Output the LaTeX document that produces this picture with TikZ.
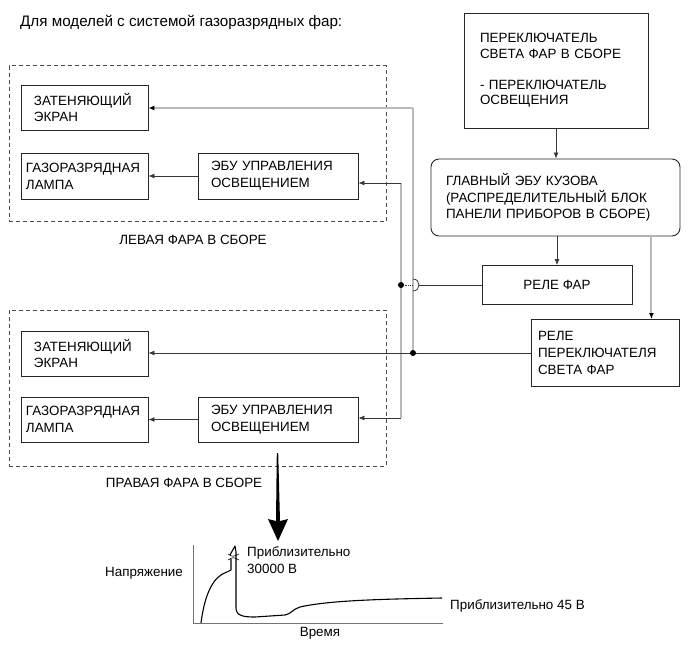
\documentclass[tikz,border=0pt]{standalone}
\usepackage{fontspec}
\setmainfont{Liberation Sans}
\usepackage{tikz}
\usetikzlibrary{arrows.meta,positioning,calc}
\definecolor{wiregray}{RGB}{185,185,185}
\definecolor{wiredark}{RGB}{55,55,55}

\begin{document}
\begin{tikzpicture}[x=1pt,y=-1pt,
  font=\fontsize{13.4}{16.8}\selectfont,
  plain/.style={inner sep=0pt},
  unit/.style={draw=black!85,line width=.9pt,align=left,inner ysep=0pt,minimum height=45pt},
  asm/.style={draw=black!70,line width=.7pt,dash pattern=on 4pt off 3pt,minimum width=377pt,minimum height=156pt,inner sep=0pt},
  wire/.style={draw=wiredark,line width=.8pt},
  feed/.style={wire,-{Latex[length=6pt,width=5pt]}},
  gwire/.style={draw=wiregray,line width=2pt},
  gfeed/.style={gwire,-{Latex[length=6pt,width=5pt,color=black]}},
  joint/.style={circle,fill=black,inner sep=0pt,minimum size=6pt},
  axis/.style={draw=black!55,line width=.6pt},
  trace/.style={draw=black,line width=1.1pt,line join=round}]

\path[use as bounding box] (0,0) rectangle (689,659);
\node[plain,anchor=west,font=\fontsize{15.2}{18}\selectfont] (heading) at (20,22) {Для моделей с системой газоразрядных фар:};

% headlamp assemblies
\node[asm] (asmL) at (197.5,143.5) {};
\node[plain] (asmLlabel) at (193,240) {ЛЕВАЯ ФАРА В СБОРЕ};
\node[unit,inner xsep=13pt,text width=101pt] (shadeL) at (84.5,107.5) {ЗАТЕНЯЮЩИЙ\\ЭКРАН};
\node[unit,inner xsep=5pt,text width=117pt,minimum height=46pt] (lampL) at (84.5,176) {ГАЗОРАЗРЯДНАЯ\\ЛАМПА};
\node[unit,inner xsep=13pt,text width=134pt,minimum height=46pt] (ecuL) at (278,176) {ЭБУ УПРАВЛЕНИЯ\\ОСВЕЩЕНИЕМ};

\node[asm] (asmR) at (197.5,388) {};
\node[plain] (asmRlabel) at (184,483) {ПРАВАЯ ФАРА В СБОРЕ};
\node[unit,inner xsep=13pt,text width=101pt] (shadeR) at (84.5,353.5) {ЗАТЕНЯЮЩИЙ\\ЭКРАН};
\node[unit,inner xsep=5pt,text width=117pt] (lampR) at (84.5,419.5) {ГАЗОРАЗРЯДНАЯ\\ЛАМПА};
\node[unit,inner xsep=13pt,text width=134pt] (ecuR) at (278,419.5) {ЭБУ УПРАВЛЕНИЯ\\ОСВЕЩЕНИЕМ};

% switch, body ECU and relays
\node[unit,inner xsep=16pt,text width=152pt,minimum height=115pt,font=\fontsize{13.4}{15.5}\selectfont] (hlsw) at (556,70.5)
  {ПЕРЕКЛЮЧАТЕЛЬ\\СВЕТА ФАР В СБОРЕ\\[15.5pt]- ПЕРЕКЛЮЧАТЕЛЬ\\ОСВЕЩЕНИЯ};
\node[unit,inner xsep=15pt,text width=219pt,minimum height=77pt,rounded corners=8pt] (bodyecu) at (555.5,197.5)
  {ГЛАВНЫЙ ЭБУ КУЗОВА\\(РАСПРЕДЕЛИТЕЛЬНЫЙ БЛОК\\ПАНЕЛИ ПРИБОРОВ В СБОРЕ)};
\node[unit,align=center,minimum width=150pt,minimum height=39pt] (hlrelay) at (557,285) {РЕЛЕ ФАР};
\node[unit,inner xsep=7pt,text width=134pt,minimum height=67pt] (dimrelay) at (605,353) {РЕЛЕ\\ПЕРЕКЛЮЧАТЕЛЯ\\СВЕТА ФАР};

\draw[feed] (hlsw.south) -- (hlsw.south |- bodyecu.north);
\draw[feed] (bodyecu.south -| hlrelay.north) -- (hlrelay.north);
\coordinate (dimtap) at ([xshift=-28pt]dimrelay.north east);
\draw[gfeed] (bodyecu.south -| dimtap) -- (dimtap);

% wiring to the headlamps
\coordinate (busA) at (401,183);
\coordinate (busB) at (401,418);
\coordinate (busC) at (413,108);
\coordinate (tapA) at (401,285);
\coordinate (tapB) at (413,353);
\draw[gwire] (busA) -- (busB);
\draw[gwire] (busC) -- (tapB);
\draw[gfeed] (busC) -- (busC -| shadeL.east);
\draw[feed] (busA) -- (busA -| ecuL.east);
\draw[feed] (busB) -- (busB -| ecuR.east);
\draw[feed] (ecuL.west) -- (ecuL.west -| lampL.east);
\draw[feed] (ecuR.west) -- (ecuR.west -| lampR.east);
\draw[feed] (dimrelay.west) -- (dimrelay.west -| shadeR.east);
\draw[wire] (hlrelay.west) -- (419,285);
\draw[wire] (413,279) .. controls (421,279) and (421,291) .. (413,291);
\draw[wire,densely dotted,line width=.6pt] (tapA) -- (413,285);
\node[joint] (jA) at (tapA) {};
\node[joint] (jB) at (tapB) {};

% voltage curve
\fill[black] (276.8,453) -- (278.2,453) -- (280,521) -- (288,519) -- (278,541) -- (268,519) -- (276,521) -- cycle;
\draw[axis] (193,545) -- (193,623) -- (443,623);
\draw[trace] (201,623) .. controls (205,592) and (214,576) .. (227,572) -- (231,570) -- (231,559);
\draw[trace] (230,555) -- (235,546) -- (236,552) -- (236,608)
  .. controls (236,616) and (244,617) .. (255,617) -- (285,615)
  .. controls (291,614) and (293,609) .. (300,607)
  .. controls (330,600) and (390,599) .. (442,598);
\draw[trace,line width=.6pt] (228,554) .. controls (233,557) .. (239,554);
\draw[trace,line width=.6pt] (228,560) .. controls (233,557) .. (239,560);
\node[plain,anchor=west] (vlabel) at (105,573) {Напряжение};
\node[plain,anchor=west,align=left] (peaklabel) at (247,560) {Приблизительно\\30000 В};
\node[plain,anchor=west] (floorlabel) at (450,606) {Приблизительно 45 В};
\node[plain] (tlabel) at (320,633) {Время};

\end{tikzpicture}
\end{document}
